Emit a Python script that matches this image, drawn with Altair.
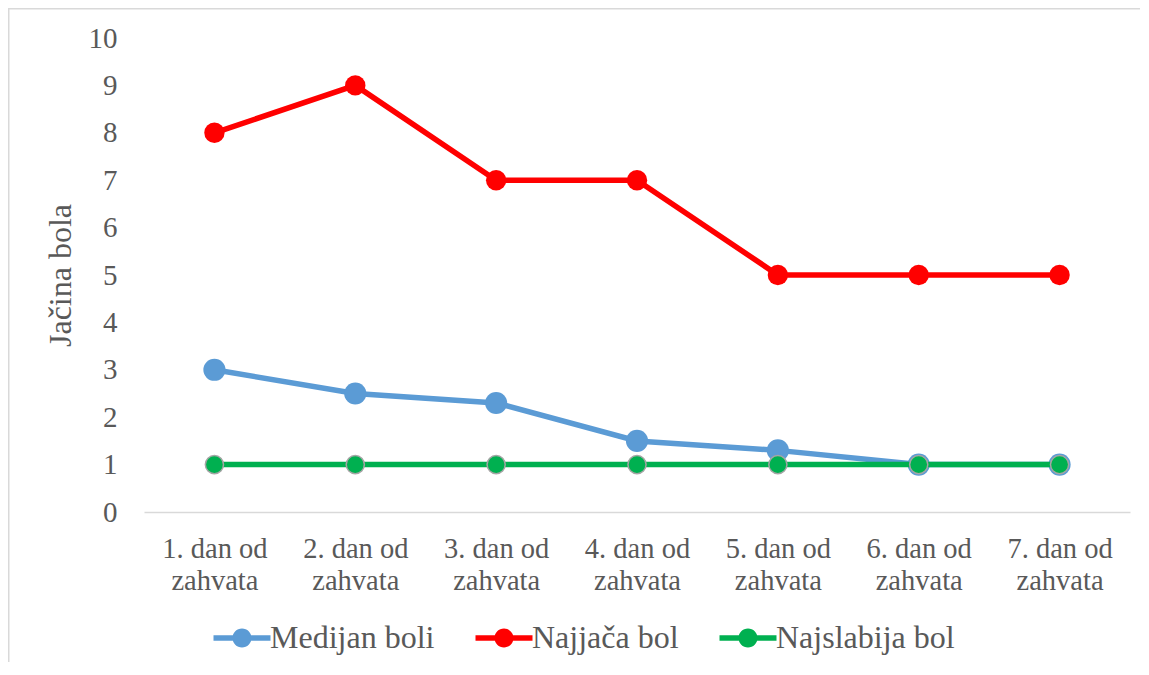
import altair as alt
import pandas as pd

days = ["1. dan od zahvata", "2. dan od zahvata", "3. dan od zahvata",
        "4. dan od zahvata", "5. dan od zahvata", "6. dan od zahvata",
        "7. dan od zahvata"]
medijan = [3, 2.5, 2.3, 1.5, 1.3, 1, 1]
najjaca = [8, 9, 7, 7, 5, 5, 5]
najslabija = [1, 1, 1, 1, 1, 1, 1]

series_names = ["Medijan boli", "Najjača bol", "Najslabija bol"]
series_vals = [medijan, najjaca, najslabija]
colors = ["#5B9BD5", "#FF0000", "#00B050"]
marker_sizes = [490, 415, 330]

rows = []
for name, vals in zip(series_names, series_vals):
    for d, v in zip(days, vals):
        rows.append({"dan": d, "serija": name, "vrijednost": v})
df = pd.DataFrame(rows)

FONT = "Liberation Serif"
TXT = "#595959"
W, H = 986, 474

legend_path = ("M-3,-0.28 L3,-0.28 L3,0.28 L-3,0.28 Z "
               "M-1,0 A1,1 0 1,1 1,0 A1,1 0 1,1 -1,0 Z")

legend = alt.Legend(
    title=None, orient="none", direction="horizontal",
    legendX=82, legendY=584, padding=0,
    symbolType=legend_path, symbolSize=361, symbolStrokeWidth=0,
    symbolOpacity=1, labelFont=FONT, labelFontSize=32, labelColor=TXT,
    labelOffset=12, columnPadding=40, labelLimit=400,
)

color = alt.Color("serija:N", scale=alt.Scale(domain=series_names, range=colors),
                  legend=legend)
x = alt.X("dan:O", sort=days, scale=alt.Scale(type="point", padding=0.5),
          axis=alt.Axis(title=None, labelAngle=0, labelFont=FONT, labelFontSize=28.5,
                        labelColor=TXT, labelBaseline="alphabetic", labelPadding=45,
                        labelLineHeight=32, ticks=False, tickSize=0,
                        domainColor="#D9D9D9", domainWidth=1.5, grid=False,
                        labelExpr="[substring(datum.label, 0, 9), substring(datum.label, 10)]"))
y = alt.Y("vrijednost:Q", scale=alt.Scale(domain=[0, 10], nice=False),
          axis=alt.Axis(title="Jačina bola", values=list(range(11)), labelFont=FONT,
                        labelFontSize=29, labelColor=TXT, labelPadding=27,
                        ticks=False, tickSize=0, domain=False, grid=False,
                        titleFont=FONT, titleFontSize=32, titleColor=TXT,
                        titleFontWeight="normal", titleX=-84, titleY=H / 2,
                        titleAngle=270, titleBaseline="middle", titleAlign="center"))

base = alt.Chart(df)
layers = []
for name, size in zip(series_names, marker_sizes):
    sub = base.transform_filter(alt.datum.serija == name)
    layers.append(sub.mark_line(strokeWidth=5.5).encode(x=x, y=y, color=color))
    if name == "Najslabija bol":
        pt = sub.mark_circle(size=size, opacity=1, stroke="#A5A5A5", strokeWidth=1.5)
    else:
        pt = sub.mark_circle(size=size, opacity=1)
    layers.append(pt.encode(x=x, y=y, color=color))

frame_df = pd.DataFrame({"k": [0]})
top_rule = alt.Chart(frame_df).mark_rule(color="#D9D9D9", strokeWidth=1.5, clip=False).encode(
    x=alt.value(-136), x2=alt.value(W + 10), y=alt.value(-29.25))
left_rule = alt.Chart(frame_df).mark_rule(color="#D9D9D9", strokeWidth=1.5, clip=False).encode(
    x=alt.value(-135.25), y=alt.value(-30), y2=alt.value(H + 150))

chart = alt.layer(top_rule, left_rule, *layers).properties(
    width=W, height=H,
    background="white",
    autosize=alt.AutoSizeParams(type="none"),
    padding={"left": 136, "top": 30, "right": 10, "bottom": 150},
).configure_view(strokeWidth=0, stroke="transparent")

chart.save("out.html", embed_options={"renderer": "svg", "actions": False})
